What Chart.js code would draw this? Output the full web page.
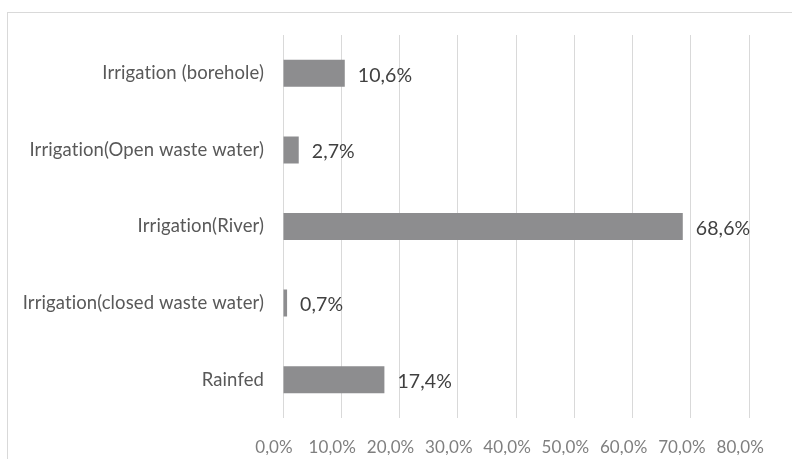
<!DOCTYPE html>
<html>
<head>
<meta charset="utf-8">
<script src="https://cdn.jsdelivr.net/npm/chart.js@4/dist/chart.umd.min.js"></script>
<style>
    html, body { margin: 0; padding: 0; background: #fff; }
    .chart-wrap { position: relative; width: 792px; height: 459px; }
    .chart-frame {
        position: absolute; left: 7px; top: 12px; right: 0; bottom: 0;
        border-top: 1px solid #d9d9d9; border-left: 1px solid #d9d9d9;
        pointer-events: none;
    }
    canvas { position: absolute; left: 0; top: 0; }
</style>
</head>
<body>
<div class="chart-wrap">
    <div class="chart-frame"></div>
    <canvas id="sourceChart" width="792" height="459"></canvas>
</div>
<script>
// ==================== WATER SOURCE SHARES ====================

const categories = [
    'Irrigation (borehole)',
    'Irrigation(Open waste water)',
    'Irrigation(River)',
    'Irrigation(closed waste water)',
    'Rainfed'
];
const shares = [10.6, 2.7, 68.6, 0.7, 17.4];
const tickValues = [0, 10, 20, 30, 40, 50, 60, 70, 80];

const FONT = 'Lato, "Open Sans", sans-serif';

// Format like 10,6%
function pct(v) {
    return v.toFixed(1).replace('.', ',') + '%';
}

// Tiny letter spacing keeps Lato from joining "ti" into a ligature
const noLigatures = {
    id: 'noLigatures',
    beforeLayout(chart) {
        chart.ctx.letterSpacing = '0.1px';
    },
    beforeDraw(chart) {
        chart.ctx.letterSpacing = '0.1px';
    }
};

// Value labels at the end of each bar
const valueLabels = {
    id: 'valueLabels',
    afterDatasetsDraw(chart) {
        const ctx = chart.ctx;
        const meta = chart.getDatasetMeta(0);
        ctx.save();
        ctx.font = '19.5px ' + FONT;
        ctx.fillStyle = '#404040';
        ctx.textAlign = 'left';
        ctx.textBaseline = 'middle';
        meta.data.forEach((bar, i) => {
            ctx.fillText(pct(shares[i]), bar.x + 13, bar.y + 2);
        });
        ctx.restore();
    }
};

const ctx = document.getElementById('sourceChart').getContext('2d');

new Chart(ctx, {
    type: 'bar',
    data: {
        labels: categories,
        datasets: [{
            data: shares,
            backgroundColor: '#8d8d8f',
            borderWidth: 0,
            barPercentage: 0.353,
            categoryPercentage: 1
        }]
    },
    options: {
        indexAxis: 'y',
        responsive: false,
        animation: false,
        layout: {
            padding: { left: 0, right: 40, top: 35, bottom: 4 }
        },
        plugins: {
            legend: { display: false },
            tooltip: { enabled: false }
        },
        scales: {
            x: {
                min: 0,
                max: 80,
                afterBuildTicks(scale) {
                    scale.ticks = tickValues.map(v => ({ value: v }));
                },
                afterFit(scale) {
                    scale.height = 37;
                },
                grid: { color: '#d9d9d9', drawTicks: false },
                border: { display: false },
                ticks: {
                    padding: 19,
                    labelOffset: -9,
                    maxRotation: 0,
                    autoSkip: false,
                    color: '#7f7f7f',
                    font: { family: FONT, size: 17 },
                    callback: v => pct(v)
                }
            },
            y: {
                afterFit(scale) {
                    scale.width = 283;
                },
                grid: { display: false, drawTicks: false },
                border: { display: false },
                ticks: {
                    padding: 19,
                    color: '#595959',
                    font: { family: FONT, size: 18.5 }
                }
            }
        }
    },
    plugins: [noLigatures, valueLabels]
});
</script>
</body>
</html>
